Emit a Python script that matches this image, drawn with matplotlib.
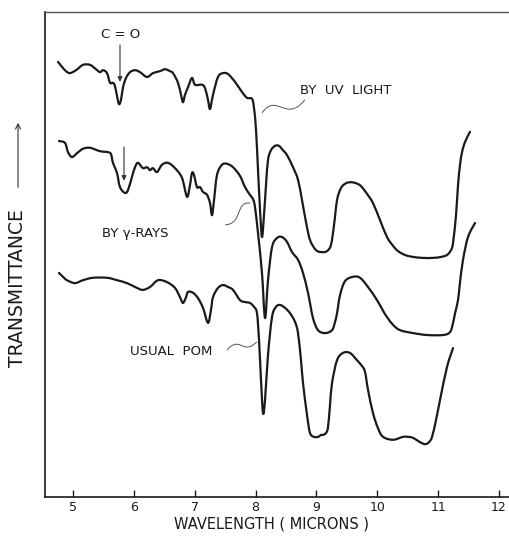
import matplotlib
matplotlib.use("Agg")
import matplotlib.pyplot as plt
import numpy as np
from matplotlib.path import Path
from matplotlib.patches import PathPatch, FancyArrowPatch

# IR spectra of polyoxymethylene (transmittance in arbitrary units, curves offset)
wl_uv = [4.754, 4.819, 4.885, 4.951, 5.049, 5.164, 5.279, 5.378, 5.444, 5.493,
         5.559, 5.608, 5.657, 5.690, 5.723, 5.756, 5.789, 5.822, 5.871, 5.937,
         6.019, 6.101, 6.216, 6.314, 6.429, 6.512, 6.594, 6.643, 6.725, 6.775,
         6.807, 6.840, 6.890, 6.955, 7.005, 7.120, 7.169, 7.218, 7.251, 7.300,
         7.382, 7.465, 7.547, 7.662, 7.777, 7.859, 7.941, 7.974, 8.007, 8.040,
         8.073, 8.105, 8.138, 8.171, 8.204, 8.253, 8.319, 8.385, 8.450, 8.516,
         8.615, 8.697, 8.763, 8.828, 8.894, 8.993, 9.091, 9.173, 9.239, 9.289,
         9.338, 9.403, 9.486, 9.568, 9.650, 9.732, 9.831, 9.929, 10.044, 10.159,
         10.258, 10.340, 10.455, 10.587, 10.751, 10.915, 11.047, 11.145, 11.211, 11.244,
         11.293, 11.326, 11.359, 11.392, 11.441, 11.523]
t_uv = [89.7, 88.7, 87.8, 87.4, 88.0, 89.1, 89.1, 88.2, 87.6, 88.0,
        87.4, 85.4, 85.4, 84.7, 82.7, 81.0, 81.9, 84.5, 86.4, 87.6,
        88.0, 87.6, 86.6, 87.4, 87.8, 88.2, 87.8, 87.4, 85.4, 82.9,
        81.4, 82.9, 84.5, 86.4, 85.0, 85.0, 84.3, 81.9, 80.0, 82.9,
        86.6, 87.4, 87.2, 85.6, 83.5, 82.3, 82.1, 80.2, 75.7, 67.4,
        59.2, 53.6, 58.1, 64.3, 69.5, 71.5, 72.4, 72.4, 71.5, 70.5,
        68.0, 65.4, 61.2, 56.7, 53.0, 50.9, 50.5, 50.7, 52.0, 56.1,
        61.2, 63.7, 64.7, 64.9, 64.7, 64.1, 62.5, 60.6, 57.1, 53.6,
        51.8, 50.7, 49.9, 49.5, 49.3, 49.3, 49.5, 49.9, 50.9, 52.4,
        58.1, 64.3, 68.5, 71.1, 73.2, 75.3]

wl_gamma = [4.770, 4.869, 4.918, 4.984, 5.066, 5.164, 5.279, 5.444, 5.575, 5.624,
            5.657, 5.723, 5.772, 5.854, 5.904, 5.969, 6.019, 6.068, 6.150, 6.216,
            6.265, 6.314, 6.380, 6.462, 6.561, 6.676, 6.791, 6.873, 6.922, 6.955,
            6.988, 7.037, 7.087, 7.136, 7.202, 7.251, 7.284, 7.317, 7.366, 7.448,
            7.530, 7.629, 7.744, 7.826, 7.908, 7.958, 7.990, 8.040, 8.105, 8.155,
            8.204, 8.270, 8.352, 8.434, 8.516, 8.598, 8.697, 8.779, 8.861, 8.943,
            9.026, 9.141, 9.256, 9.305, 9.338, 9.387, 9.469, 9.600, 9.716, 9.847,
            9.995, 10.094, 10.159, 10.258, 10.373, 10.587, 10.817, 11.080, 11.195, 11.244,
            11.277, 11.326, 11.359, 11.408, 11.490, 11.605]
t_gamma = [73.4, 73.0, 71.1, 70.1, 70.9, 71.8, 72.0, 71.3, 71.1, 70.7,
           68.9, 66.8, 63.9, 62.7, 63.3, 66.0, 68.0, 68.9, 67.8, 68.0,
           67.4, 67.8, 67.0, 68.5, 68.9, 67.8, 65.8, 61.9, 64.3, 66.8,
           66.4, 63.9, 63.9, 62.9, 62.3, 60.6, 58.1, 61.2, 66.4, 68.5,
           68.7, 68.0, 66.2, 63.9, 62.3, 61.4, 59.8, 54.4, 46.2, 36.9,
           44.7, 51.5, 53.4, 53.6, 52.6, 50.5, 48.9, 46.2, 42.1, 36.9,
           34.4, 33.8, 34.4, 36.1, 37.9, 41.6, 44.5, 45.4, 45.2, 43.3,
           40.6, 38.4, 37.1, 35.5, 34.4, 33.8, 33.4, 33.4, 34.0, 35.9,
           37.9, 40.6, 44.3, 48.9, 53.6, 56.5]

wl_usual = [4.770, 4.836, 4.901, 5.033, 5.164, 5.329, 5.559, 5.723, 5.887, 6.052,
            6.150, 6.265, 6.397, 6.545, 6.676, 6.758, 6.807, 6.857, 6.890, 6.972,
            7.054, 7.136, 7.218, 7.267, 7.300, 7.382, 7.465, 7.547, 7.629, 7.744,
            7.826, 7.908, 7.974, 8.023, 8.056, 8.089, 8.122, 8.155, 8.204, 8.270,
            8.335, 8.401, 8.483, 8.566, 8.648, 8.697, 8.746, 8.779, 8.845, 8.894,
            8.960, 9.026, 9.075, 9.108, 9.157, 9.190, 9.223, 9.256, 9.338, 9.436,
            9.551, 9.666, 9.749, 9.798, 9.847, 9.929, 10.011, 10.094, 10.258, 10.422,
            10.504, 10.587, 10.702, 10.784, 10.849, 10.899, 10.965, 11.030, 11.145, 11.244]
t_usual = [46.2, 45.4, 44.7, 44.1, 44.7, 45.2, 45.2, 44.7, 44.1, 43.1,
           42.7, 43.3, 44.7, 44.3, 43.1, 41.2, 40.0, 41.2, 42.3, 42.1,
           41.0, 39.0, 35.9, 38.6, 41.2, 43.1, 43.7, 43.3, 42.7, 40.6,
           40.2, 40.0, 39.2, 37.9, 32.4, 24.1, 17.3, 20.0, 29.3, 37.1,
           39.2, 39.6, 39.0, 37.9, 36.1, 33.8, 28.2, 23.5, 16.9, 13.2,
           12.4, 12.4, 12.8, 12.8, 13.2, 14.4, 19.0, 23.5, 28.2, 29.7,
           29.7, 28.2, 27.0, 25.8, 22.1, 17.3, 14.2, 12.4, 11.8, 12.4,
           12.4, 12.2, 11.3, 10.9, 11.3, 12.4, 15.9, 20.0, 26.8, 30.7]

x_ticks = [5, 6, 7, 8, 9, 10, 11, 12]

INK = "#1a1a1a"
plt.rcParams["font.family"] = ["DejaVu Sans"]


def smooth_path(x, y, tension=0.5):
    """Catmull-Rom curve through every point, expressed as cubic Bezier segments."""
    p = np.column_stack([x, y]).astype(float)
    ext = np.vstack([p[0], p, p[-1]])
    verts = [p[0]]
    codes = [Path.MOVETO]
    for i in range(1, len(ext) - 2):
        p0, p1, p2, p3 = ext[i - 1], ext[i], ext[i + 1], ext[i + 2]
        c1 = p1 + (p2 - p0) * tension / 3.0
        c2 = p2 - (p3 - p1) * tension / 3.0
        verts += [c1, c2, p2]
        codes += [Path.CURVE4] * 3
    return Path(verts, codes)


fig = plt.figure(figsize=(5.10, 5.44), dpi=100)
ax = fig.add_axes([45 / 510, 47 / 544, 465 / 510, 485 / 544])

for wl, t in [(wl_uv, t_uv), (wl_gamma, t_gamma), (wl_usual, t_usual)]:
    ax.add_patch(PathPatch(smooth_path(wl, t), facecolor="none", edgecolor=INK,
                           lw=1.6, joinstyle="round", capstyle="round"))

ax.set_xlim(4.54, 12.18)
ax.set_ylim(0, 100)
ax.set_xticks(x_ticks)
ax.set_xticklabels([str(v) for v in x_ticks])
ax.set_yticks([])
ax.tick_params(axis="x", direction="in", length=5, width=1, color=INK,
               labelsize=9, labelcolor=INK, pad=3)

for side in ("left", "bottom"):
    ax.spines[side].set_color(INK)
    ax.spines[side].set_linewidth(1.2)
ax.spines["top"].set_color("#555555")
ax.spines["top"].set_linewidth(1.0)
ax.spines["right"].set_visible(False)

# carbonyl band markers
ax.text(5.79, 95.3, "C = O", ha="center", va="center", fontsize=9.5, color=INK)
ax.annotate("", xy=(5.772, 85.6), xytext=(5.772, 93.2),
            arrowprops=dict(arrowstyle="-|>", color="#333333", lw=0.8,
                            mutation_scale=7, shrinkA=0, shrinkB=0))
ax.annotate("", xy=(5.838, 65.2), xytext=(5.838, 72.2),
            arrowprops=dict(arrowstyle="-|>", color="#333333", lw=0.8,
                            mutation_scale=7, shrinkA=0, shrinkB=0))

# curve labels with wavy leader lines
ax.text(8.73, 83.9, "BY  UV  LIGHT", ha="left", va="center", fontsize=9.5, color=INK)
ax.text(6.02, 54.4, "BY γ-RAYS", ha="center", va="center", fontsize=9.5, color=INK)
ax.text(6.61, 30.1, "USUAL  POM", ha="center", va="center", fontsize=9.5, color=INK)

leaders = [
    [(8.105, 79.2), (8.35, 83.5), (8.50, 77.0), (8.81, 81.9)],
    [(7.50, 56.1), (7.80, 56.4), (7.66, 61.0), (7.91, 60.6)],
    [(7.53, 30.3), (7.76, 33.5), (7.78, 29.0), (8.02, 32.0)],
]
for pts in leaders:
    path = Path(pts, [Path.MOVETO, Path.CURVE4, Path.CURVE4, Path.CURVE4])
    ax.add_patch(PathPatch(path, facecolor="none", edgecolor="#555555", lw=0.7))

# axis titles
fig.text(272 / 510, 1 - 524 / 544, "WAVELENGTH ( MICRONS )", ha="center", va="center",
         fontsize=10.5, color=INK)
fig.text(18 / 510, 1 - 288 / 544, "TRANSMITTANCE", rotation=90, ha="center", va="center",
         fontsize=13.5, color=INK)
fig.patches.append(FancyArrowPatch(
    (18 / 510, 1 - 190 / 544), (18 / 510, 1 - 120 / 544), transform=fig.transFigure,
    arrowstyle="->", mutation_scale=9, lw=0.8, color="#333333"))

fig.savefig("out.png", dpi=100, facecolor="white")
